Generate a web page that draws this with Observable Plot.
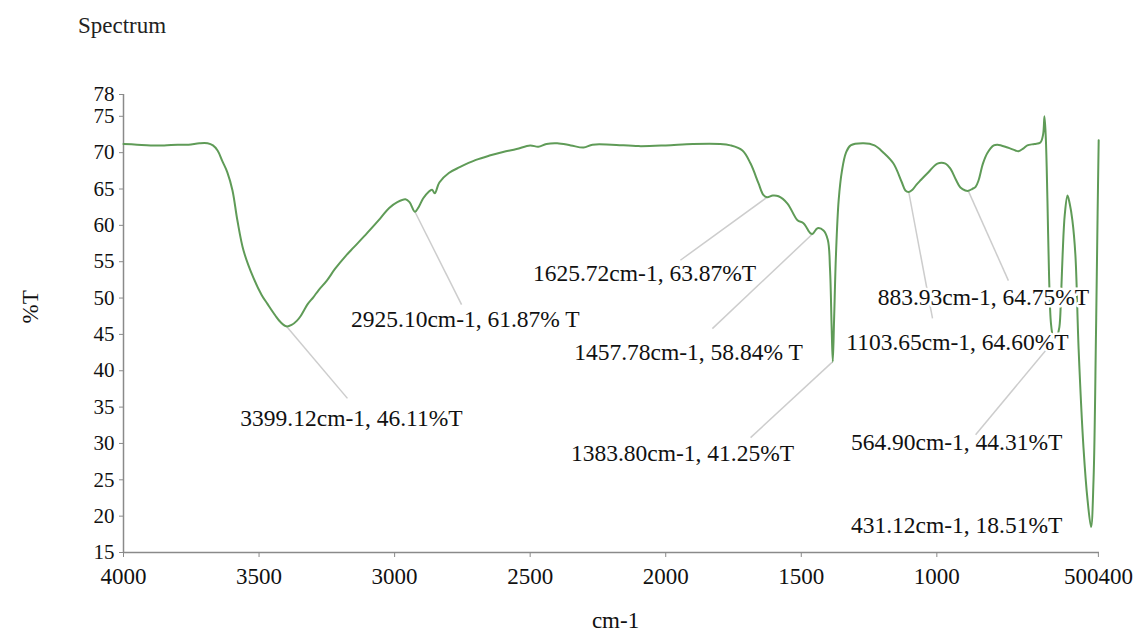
<!DOCTYPE html>
<html><head><meta charset="utf-8">
<script src="https://cdn.jsdelivr.net/npm/d3@7"></script>
<script src="https://cdn.jsdelivr.net/npm/@observablehq/plot@0.6"></script>
<style>
body{margin:0;background:#fff;}
#wrap{position:relative;width:1137px;height:635px;overflow:hidden;}
#title{position:absolute;left:78px;top:14px;font-family:"Liberation Serif","Times New Roman",Times,"DejaVu Serif",serif;font-size:23px;line-height:1;color:#222;}
#chart{position:absolute;left:0;top:0;}
#chart svg, #chart svg text{font-family:"Liberation Serif","Times New Roman",Times,"DejaVu Serif",serif !important;}
</style></head><body>
<div id="wrap"><div id="chart"></div><div id="title">Spectrum</div></div>
<script>
// Spectrum (wavenumber cm-1, %T)
const wavenumber = [4000,3950,3900,3850,3800,3760,3720,3690,3670,3653,3635,3617,3598,3580,3557,3521,3490,3469,3440,3421,3399.12,3380,3360,3347,3320,3300,3280,3250,3220,3180,3150,3100,3052,3020,2990,2960,2945,2925.10,2910,2895,2875,2862,2852,2835,2800,2760,2700,2650,2600,2550,2500,2470,2440,2400,2350,2303,2270,2200,2100,2000,1900,1800,1761,1717,1687,1658,1640,1625.72,1605,1584,1551,1514,1492,1466,1457.78,1440,1418,1402,1394,1388,1383.80,1379,1372,1362,1350,1335,1318,1270,1230,1197,1160,1130,1116,1103.65,1090,1075,1060,1031,998,968,950,930,913,895,883.93,870,857,846,830,813,790,776,739,710,699,680,666,640,618,608,603,598,592,586,579,571,564.90,556,548,542,536,528,518,510,500,489,477,459,444,431.12,422,413,407,403];
const transmittance = [71.2,71.1,71.0,71.0,71.1,71.1,71.3,71.3,71.0,70.3,68.8,67.3,64.8,60.7,56.5,52.8,50.4,49.2,47.6,46.7,46.11,46.3,46.9,47.5,49.2,50.1,51.1,52.4,54.0,55.8,57.0,59.0,61.0,62.4,63.2,63.6,63.2,61.87,62.6,63.7,64.6,64.9,64.4,65.9,67.2,68.0,69.0,69.6,70.1,70.5,71.0,70.8,71.2,71.3,71.0,70.7,71.1,71.1,70.9,71.0,71.2,71.2,71.0,70.3,68.5,65.8,64.2,63.87,64.1,64.0,63.0,60.7,60.3,58.9,58.84,59.6,59.3,58.0,54,46,41.25,47,56,63.5,67.5,70.0,71.0,71.3,71.0,70.0,68.5,66.0,64.8,64.60,64.9,65.6,66.2,67.3,68.5,68.5,67.8,66.3,65.2,64.8,64.75,65.0,65.3,66.2,68.5,70.0,71.0,71.1,70.7,70.3,70.2,70.6,71.0,71.2,71.4,72.5,75.0,72,63.4,53,46.5,44.6,44.31,44.8,46,50,56,61.5,64.1,63,60.7,56,43,29.4,22.2,18.51,25,45,61.6,71.7];

// Annotated peaks
const peakWavenumber = [3399.12,2925.10,1625.72,1457.78,1383.80,1103.65,883.93,564.90,431.12];
const peakTransmittance = [46.11,61.87,63.87,58.84,41.25,64.60,64.75,44.31,18.51];
const peakLabel = ["3399.12cm-1, 46.11%T","2925.10cm-1, 61.87% T","1625.72cm-1, 63.87%T","1457.78cm-1, 58.84% T","1383.80cm-1, 41.25%T","1103.65cm-1, 64.60%T","883.93cm-1, 64.75%T","564.90cm-1, 44.31%T","431.12cm-1, 18.51%T"];
// label anchor (data units)
const labelWavenumber = [3159,2739,2078,1916,1938,924,828,927,927];
const labelTransmittance = [33.4,47.0,53.4,42.5,28.6,43.9,50.1,30.1,18.7];
// leader line ends (data units)
const leaderWavenumber = [3174,2753,1946,1828,1687,1016,736,857,null];
const leaderTransmittance = [36.2,49.1,55.2,45.8,30.8,47.2,52.4,31.2,null];

const xTicks = [4000,3500,3000,2500,2000,1500,1000,500,400];
const yTicks = [15,20,25,30,35,40,45,50,55,60,65,70,75,78];

const spectrum = wavenumber.map((w,i)=>({w, t: transmittance[i]}));
const peaks = peakWavenumber.map((w,i)=>({
  w, t: peakTransmittance[i], label: peakLabel[i],
  lw: labelWavenumber[i], lt: labelTransmittance[i],
  ew: leaderWavenumber[i], et: leaderTransmittance[i]
}));

const fmt = d => String(d);
const axisColor = "#8a8a8a";
const serif = "Liberation Serif, Times New Roman, Times, DejaVu Serif, serif";

const chart = Plot.plot({
  width: 1137, height: 635,
  marginLeft: 123, marginRight: 38, marginTop: 94, marginBottom: 83,
  style: {fontFamily: serif, fontSize: "23px", color: "#111", background: "#fff"},
  x: {domain: [4000, 400], axis: null},
  y: {domain: [15, 78], axis: null},
  marks: [
    Plot.ruleX([xTicks[0]], {stroke: axisColor, strokeWidth: 1.5}),
    Plot.ruleY([yTicks[0]], {stroke: axisColor, strokeWidth: 1.5}),
    Plot.axisY({ticks: yTicks, tickSize: 4, tickPadding: 5, stroke: axisColor, fill: "#111", tickFormat: fmt, label: null, fontSize: 21}),
    Plot.axisX({ticks: xTicks.slice(0, 7), tickSize: 5, tickPadding: 10, stroke: axisColor, fill: "#111", tickFormat: fmt, label: null}),
    Plot.axisX({ticks: [xTicks[7]], tickSize: 5, tickPadding: 10, stroke: axisColor, fill: "#111", tickFormat: fmt, label: null, textAnchor: "end", dx: 26}),
    Plot.axisX({ticks: [xTicks[8]], tickSize: 0, tickPadding: 15, stroke: axisColor, fill: "#111", tickFormat: fmt, label: null, textAnchor: "start", dx: -1}),
    Plot.link(peaks.filter(d => d.ew != null), {x1: "w", y1: "t", x2: "ew", y2: "et", stroke: "#cdcdcd", strokeWidth: 1.5}),
    Plot.line(spectrum, {x: "w", y: "t", stroke: "#5f9b57", strokeWidth: 2, curve: "catmull-rom"}),
    Plot.text(peaks, {x: "lw", y: "lt", text: "label", fill: "#111", stroke: "white", strokeWidth: 5, fontSize: 23.5, textAnchor: "middle", lineAnchor: "middle"}),
    Plot.text(["cm-1"], {frameAnchor: "bottom", dy: 68, dx: 4, fill: "#111", lineAnchor: "middle"}),
    Plot.text(["%T"], {frameAnchor: "left", dx: -93, rotate: -90, fill: "#111", lineAnchor: "middle"})
  ]
});
document.getElementById("chart").appendChild(chart);
</script>
</body></html>
